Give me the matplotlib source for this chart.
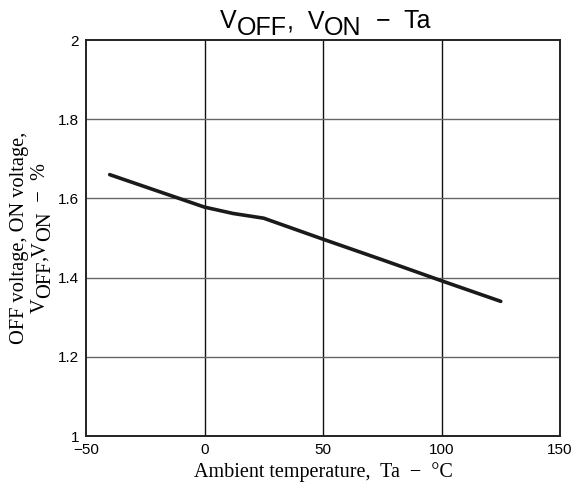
import matplotlib
matplotlib.use("Agg")
import matplotlib.pyplot as plt
import numpy as np

# data
temp = [-40, 0, 12, 25, 50, 75, 100, 125]
volt = [1.66, 1.578, 1.562, 1.55, 1.497, 1.445, 1.392, 1.34]

xticks = [-50, 0, 50, 100, 150]
xticklabels = ["\u221250", "0", "50", "100", "150"]
yticks = [1, 1.2, 1.4, 1.6, 1.8, 2]
yticklabels = ["1", "1.2", "1.4", "1.6", "1.8", "2"]

# title / label pieces: (text, lowered?)
title_parts = [("V", 0), ("OFF", 1), (",  V", 0), ("ON", 1), ("  \u2212  Ta", 0)]
ylab2_parts = [("V", 0), ("OFF", 1), (",V", 0), ("ON", 1), ("  \u2212  %", 0)]

plt.rcParams['font.family'] = ['Liberation Sans', 'DejaVu Sans']

W, H = 586, 484
fig = plt.figure(figsize=(W / 100, H / 100), dpi=100)
ax = fig.add_axes([86 / W, 48 / H, 474 / W, 396 / H])
renderer = fig.canvas.get_renderer()


def text_run(parts, center, base, drop, size, family, rot=0):
    # measure each piece, then lay them out end to end around a centre point
    lens = []
    for s, _ in parts:
        t = fig.text(0, 0, s, fontsize=size, family=family)
        lens.append(t.get_window_extent(renderer).width)
        t.remove()
    pos = center - sum(lens) / 2
    for (s, low), L in zip(parts, lens):
        if rot == 0:
            x, y = pos, base - drop * low
        else:
            x, y = base + drop * low, pos
        fig.text(x / W, y / H, s, fontsize=size, family=family, rotation=rot,
                 rotation_mode="anchor", ha="left", va="baseline")
        pos += L


# grid: vertical black, horizontal grey
for x in xticks[1:-1]:
    ax.axvline(x, color="#111111", linewidth=1.0, zorder=1)
for y in yticks[1:-1]:
    ax.axhline(y, color="#666666", linewidth=1.0, zorder=1)

ax.plot(temp, volt, color="#1a1a1a", linewidth=2.6, solid_capstyle="round", zorder=3)

ax.set_xlim(-50, 150)
ax.set_ylim(1, 2)
ax.set_xticks(xticks)
ax.set_xticklabels(xticklabels, fontsize=11)
ax.set_yticks(yticks)
ax.set_yticklabels(yticklabels, fontsize=11)
ax.tick_params(axis="x", length=0, pad=5)
ax.tick_params(axis="y", length=0, pad=5)
for s in ax.spines.values():
    s.set_linewidth(1.4)
    s.set_color("#222222")

text_run(title_parts, 325, H - 28, 7, 18, "Liberation Sans")

ax.set_xlabel("Ambient temperature,  Ta  \u2212  \u00b0C", family="Liberation Serif",
              fontsize=14.5, labelpad=4)
fig.text(29 / W, (H - 238) / H, "OFF voltage, ON voltage,", rotation=90,
         family="Liberation Serif", fontsize=14.7, ha="right", va="center")
text_run(ylab2_parts, H - 238, 45, 5, 14.7, "Liberation Serif", rot=90)

fig.savefig("out.png", dpi=100)
